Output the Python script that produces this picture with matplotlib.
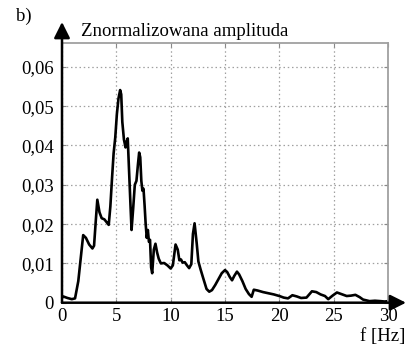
import matplotlib
matplotlib.use("Agg")
import matplotlib.pyplot as plt

# spectrum (f in Hz, normalised amplitude), 10 per row
freq = [0.0, 0.1, 0.5, 0.9, 1.2, 1.5, 1.75, 1.95, 2.2, 2.5,
        2.8, 2.95, 3.1, 3.25, 3.45, 3.65, 3.9, 4.1, 4.3, 4.45,
        4.6, 4.75, 4.9, 5.05, 5.2, 5.35, 5.45, 5.55, 5.7, 5.85,
        5.95, 6.05, 6.15, 6.3, 6.4, 6.55, 6.7, 6.85, 7.0, 7.1,
        7.2, 7.3, 7.4, 7.5, 7.6, 7.7, 7.8, 7.9, 8.0, 8.1,
        8.2, 8.3, 8.45, 8.6, 8.75, 8.9, 9.1, 9.4, 9.7, 10.0,
        10.2, 10.45, 10.65, 10.8, 10.95, 11.1, 11.3, 11.5, 11.7, 11.9,
        12.05, 12.2, 12.4, 12.55, 12.75, 13.0, 13.3, 13.55, 13.8, 14.1,
        14.4, 14.7, 15.0, 15.2, 15.45, 15.65, 15.85, 16.1, 16.3, 16.6,
        16.9, 17.2, 17.45, 17.65, 18.0, 18.5, 19.0, 19.5, 20.0, 20.4,
        20.8, 21.2, 21.6, 22.0, 22.5, 23.0, 23.4, 23.8, 24.2, 24.5,
        24.9, 25.3, 25.8, 26.2, 26.6, 27.0, 27.4, 27.7, 28.0, 28.3,
        28.8, 29.3, 29.7, 30.0]
amp = [0.0012, 0.0016, 0.0012, 0.0009, 0.0011, 0.0055, 0.012, 0.0172, 0.0165, 0.0148,
       0.0138, 0.0145, 0.0205, 0.0262, 0.023, 0.0215, 0.0212, 0.0205, 0.0198, 0.0245,
       0.0315, 0.038, 0.042, 0.048, 0.052, 0.0541, 0.053, 0.046, 0.0415, 0.0395,
       0.041, 0.0418, 0.035, 0.025, 0.0185, 0.024, 0.03, 0.031, 0.0355, 0.0382,
       0.037, 0.031, 0.0285, 0.029, 0.0248, 0.02, 0.0165, 0.0185, 0.0155, 0.016,
       0.009, 0.0075, 0.0135, 0.015, 0.0128, 0.0112, 0.0100, 0.0101, 0.0095, 0.0087,
       0.0095, 0.0148, 0.0135, 0.0108, 0.011, 0.0102, 0.0103, 0.0095, 0.0088, 0.0098,
       0.0175, 0.0202, 0.015, 0.0105, 0.0085, 0.0062, 0.0035, 0.0028, 0.0032, 0.0045,
       0.006, 0.0075, 0.0083, 0.0078, 0.0065, 0.0057, 0.0068, 0.0079, 0.0072, 0.0055,
       0.0035, 0.0022, 0.0015, 0.0033, 0.0031, 0.0027, 0.0024, 0.0021, 0.0017, 0.0013,
       0.0011, 0.0019, 0.0016, 0.0012, 0.0013, 0.0029, 0.0027, 0.0021, 0.0017, 0.0009,
       0.0018, 0.0026, 0.0021, 0.0017, 0.0018, 0.0020, 0.0014, 0.0008, 0.0006, 0.0004,
       0.0005, 0.0004, 0.0003, 0.0004]

xticks = [0, 5, 10, 15, 20, 25, 30]
yticks = [0, 0.01, 0.02, 0.03, 0.04, 0.05, 0.06]
ylabels = ["0", "0,01", "0,02", "0,03", "0,04", "0,05", "0,06"]

plt.rcParams["font.family"] = ["Liberation Serif", "DejaVu Serif"]
FS = 13.5

fig = plt.figure(figsize=(4.07, 3.48), dpi=100)
ax = fig.add_axes([62 / 407, 45.3 / 348, 326 / 407, 259.4 / 348])

ax.plot(freq, amp, color="black", lw=1.9, solid_joinstyle="round")

ax.set_xlim(0, 30)
ax.set_ylim(0, 0.066)
ax.set_xticks(xticks)
ax.set_xticklabels([str(t) for t in xticks], fontsize=FS)
ax.set_yticks(yticks)
ax.set_yticklabels(ylabels, fontsize=FS)
ax.tick_params(direction="in", length=3, color="#888888", top=True, right=True)
ax.tick_params(axis="x", pad=4)
ax.tick_params(axis="y", pad=6)
ax.grid(True, linestyle=(0, (1.2, 2.2)), color="#a0a0a0", lw=0.9)

for side in ("top", "right"):
    ax.spines[side].set_color("#a0a0a0")
    ax.spines[side].set_linewidth(1.3)
for side in ("left", "bottom"):
    ax.spines[side].set_visible(False)

# axis lines with arrow heads
arrow = dict(arrowstyle="-|>,head_length=0.6,head_width=0.3", color="black", lw=1.8,
             shrinkA=0, shrinkB=0, mutation_scale=16)
ax.annotate("", xy=(406 / 407, 45.3 / 348), xytext=(62 / 407, 45.3 / 348),
            xycoords="figure fraction", textcoords="figure fraction", arrowprops=arrow)
ax.annotate("", xy=(62 / 407, 1 - 22 / 348), xytext=(62 / 407, 45.3 / 348),
            xycoords="figure fraction", textcoords="figure fraction", arrowprops=arrow)

fig.text(81 / 407, 1 - 32 / 348, "Znormalizowana amplituda", fontsize=FS, va="center")
fig.text(16 / 407, 1 - 16 / 348, "b)", fontsize=FS, va="center")
fig.text(405 / 407, 1 - 337 / 348, "f [Hz]", fontsize=FS, va="center", ha="right")

fig.savefig("out.png", dpi=100, facecolor="white")
